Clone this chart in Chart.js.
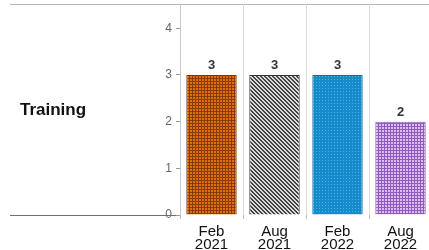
<!DOCTYPE html>
<html>
<head>
<meta charset="utf-8">
<script src="https://cdn.jsdelivr.net/npm/chart.js@4"></script>
<style>
  html, body { margin: 0; padding: 0; background: #fff; overflow: hidden; }
  #chart { display: block; }
</style>
</head>
<body>
<canvas id="chart" width="432" height="250"></canvas>
<script>
(() => {
  "use strict";

  const categories = [["Feb", "2021"], ["Aug", "2021"], ["Feb", "2022"], ["Aug", "2022"]];
  const counts = [3, 3, 3, 2];
  const yTicks = [0, 1, 2, 3, 4];
  const rowLabel = "Training";

  const FONT = "Liberation Sans, Arial, Helvetica, sans-serif";

  /* ---------- fill patterns ---------- */
  function tile(w, h, draw) {
    const c = document.createElement("canvas");
    c.width = w; c.height = h;
    draw(c.getContext("2d"));
    return document.createElement("canvas").getContext("2d").createPattern(c, "repeat");
  }

  const patterns = [
    tile(3, 3, (g) => {            // orange check
      g.fillStyle = "#e0700c"; g.fillRect(0, 0, 3, 3);
      g.fillStyle = "#8a3a08"; g.fillRect(0, 0, 3, 1); g.fillRect(0, 0, 1, 3);
    }),
    tile(4, 4, (g) => {            // gray diagonal stripes
      g.fillStyle = "#dadada"; g.fillRect(0, 0, 4, 4);
      g.fillStyle = "#444";
      for (let i = 0; i < 4; i++) { g.fillRect(i, i, 1, 1); g.fillRect((i + 1) % 4, i, 1, 1); }
    }),
    tile(3, 3, (g) => {            // blue dots
      g.fillStyle = "#168bcc"; g.fillRect(0, 0, 3, 3);
      g.fillStyle = "#55aee0"; g.fillRect(1, 1, 1, 1);
    }),
    tile(3, 3, (g) => {            // purple grid dots
      g.fillStyle = "#c393e6"; g.fillRect(0, 0, 3, 3);
      g.fillStyle = "#8e5cb8"; g.fillRect(0, 0, 3, 1); g.fillRect(0, 0, 1, 3);
      g.fillStyle = "#dcbcf4"; g.fillRect(1, 1, 2, 2);
    }),
  ];
  const borders = ["#7a3606", "#333333", "#0f6ea6", "#8a5aad"];

  /* ---------- decorations ---------- */
  const frame = {
    id: "frame",
    beforeDraw(chart) {
      const { ctx, chartArea: a } = chart;
      ctx.save();
      ctx.strokeStyle = "#b5b5b5"; ctx.lineWidth = 1;
      ctx.beginPath(); ctx.moveTo(10, 4.5); ctx.lineTo(chart.width, 4.5); ctx.stroke();
      ctx.strokeStyle = "#707070";
      ctx.beginPath(); ctx.moveTo(10, a.bottom + 0.5); ctx.lineTo(a.left, a.bottom + 0.5); ctx.stroke();
      ctx.fillStyle = "#111";
      ctx.font = `bold 17px ${FONT}`;
      ctx.textBaseline = "middle";
      ctx.fillText(rowLabel, 20, 110);
      ctx.restore();
    },
    afterDatasetsDraw(chart) {
      const { ctx } = chart;
      const meta = chart.getDatasetMeta(0);
      ctx.save();
      ctx.fillStyle = "#333";
      ctx.font = `bold 13px ${FONT}`;
      ctx.textAlign = "center";
      ctx.textBaseline = "bottom";
      meta.data.forEach((bar, i) => ctx.fillText(String(counts[i]), bar.x, bar.y - 3));
      ctx.restore();
    },
  };

  new Chart(document.getElementById("chart").getContext("2d"), {
    type: "bar",
    data: {
      labels: categories,
      datasets: [{
        data: counts,
        backgroundColor: patterns,
        borderColor: borders,
        borderWidth: 1,
        categoryPercentage: 1,
        barPercentage: 0.8,
      }],
    },
    options: {
      responsive: false, animation: false,
      layout: { padding: { top: 4, left: 0, right: 0, bottom: 0 } },
      plugins: { legend: { display: false }, tooltip: { enabled: false } },
      scales: {
        x: {
          grid: { offset: true, color: "#dcdcdc", tickLength: 4, tickColor: "#bbb" },
          border: { display: false },
          ticks: { color: "#111", padding: 6, font: { family: FONT, size: 15, lineHeight: 0.9 } },
          afterFit: (s) => { s.height = 35; s.paddingLeft = 0; s.paddingRight = 0; },
        },
        y: {
          min: 0, max: 4.52,
          afterBuildTicks: (s) => { s.ticks = yTicks.map((v) => ({ value: v })); },
          grid: { drawOnChartArea: false, tickLength: 4, tickColor: "#999" },
          border: { display: true, color: "#c8c8c8" },
          ticks: { color: "#666", padding: 4, font: { family: FONT, size: 12 } },
          afterFit: (s) => { s.width = 180; s.paddingTop = 0; s.paddingBottom = 0; },
        },
      },
    },
    plugins: [frame],
  });
})();
</script>
</body>
</html>
